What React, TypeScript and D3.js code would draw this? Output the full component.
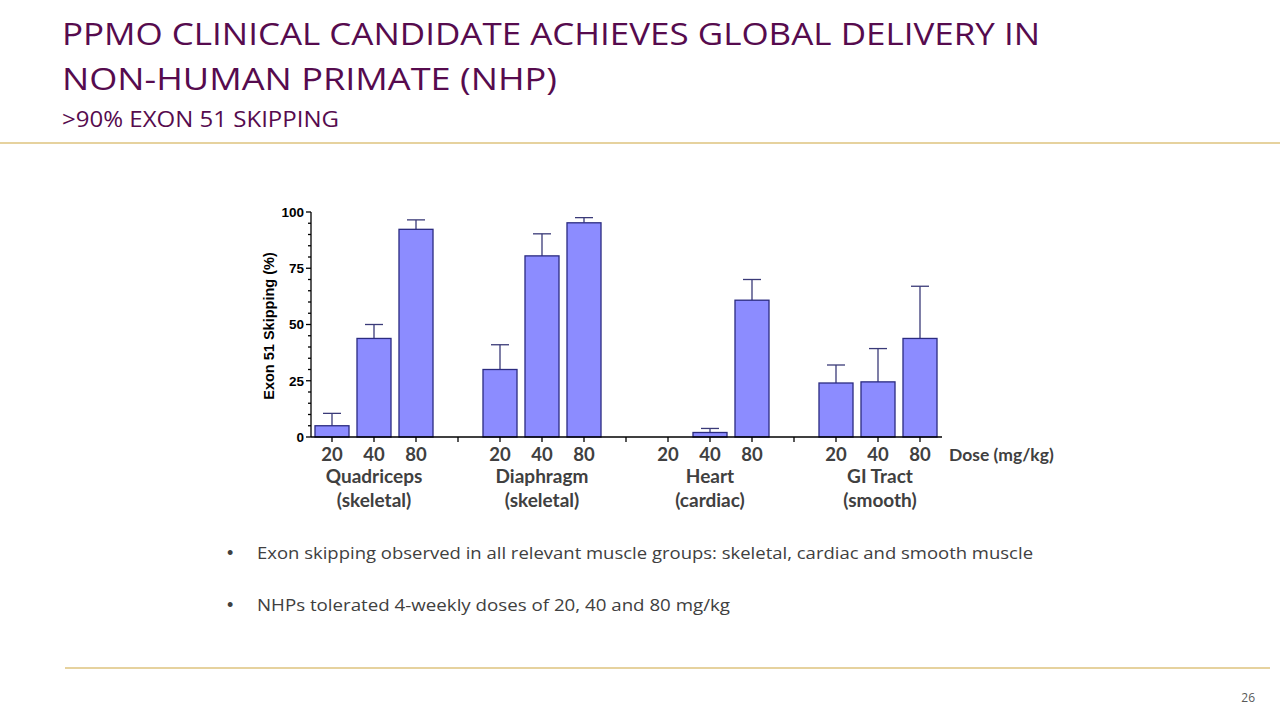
import React from "react";
import * as d3 from "d3";

const groups = ["Quadriceps", "Diaphragm", "Heart", "GI Tract"];
const groupSubs = ["(skeletal)", "(skeletal)", "(cardiac)", "(smooth)"];
const doses = ["20", "40", "80"];
const quadMeans = [5, 43.8, 92.3];
const quadUpper = [10.5, 50, 96.5];
const diaphMeans = [30, 80.5, 95.2];
const diaphUpper = [41, 90.3, 97.5];
const heartMeans = [0, 2, 60.8];
const heartUpper = [0, 3.8, 70];
const giMeans = [24, 24.5, 43.8];
const giUpper = [32, 39.3, 67];
const yTicks = [0, 25, 50, 75, 100];

const meansByGroup = [quadMeans, diaphMeans, heartMeans, giMeans];
const upperByGroup = [quadUpper, diaphUpper, heartUpper, giUpper];

const bullets = [
  "Exon skipping observed in all relevant muscle groups: skeletal, cardiac and smooth muscle",
  "NHPs tolerated 4-weekly doses of 20, 40 and 80 mg/kg",
];

const PURPLE = "#560b4e";
const GOLD = "#e6d29e";
const TEXT = "#404040";
const BAR_FILL = "#8c8cff";
const BAR_STROKE = "#2b2b80";

export default function App() {
  const slots: string[] = [];
  groups.forEach((g, gi) => {
    doses.forEach((d) => slots.push(`${g}-${d}`));
    if (gi < groups.length - 1) slots.push(`gap-${gi}`);
  });

  const x = d3
    .scaleBand<string>()
    .domain(slots)
    .range([311, 941])
    .paddingInner(0.19)
    .paddingOuter(0.095);
  const y = d3.scaleLinear().domain([0, 100]).range([437, 212]);

  const minorTicks = d3.range(0, 101, 5).filter((v) => v % 25 !== 0);
  const bw = x.bandwidth();
  const center = (k: string) => (x(k) as number) + bw / 2;

  const bars = groups.flatMap((g, gi) =>
    doses.map((d, di) => ({
      key: `${g}-${d}`,
      dose: d,
      mean: meansByGroup[gi][di],
      upper: upperByGroup[gi][di],
    }))
  );

  return (
    <div style={{ position: "absolute", left: 0, top: 0 }}>
      <svg width={1280} height={720} style={{ display: "block", background: "#fff" }}>
        {/* Title */}
        <g fill={PURPLE} fontFamily="'Open Sans', sans-serif">
          <text x={62} y={45} fontSize={31} textLength={978} lengthAdjust="spacingAndGlyphs">
            PPMO CLINICAL CANDIDATE ACHIEVES GLOBAL DELIVERY IN
          </text>
          <text x={62} y={90} fontSize={31} textLength={495} lengthAdjust="spacingAndGlyphs">
            NON-HUMAN PRIMATE (NHP)
          </text>
          <text x={62} y={127} fontSize={21} textLength={277} lengthAdjust="spacingAndGlyphs">
            {">90% EXON 51 SKIPPING"}
          </text>
        </g>
        <line x1={0} x2={1280} y1={143} y2={143} stroke={GOLD} strokeWidth={2} />
        <line x1={65} x2={1270} y1={668} y2={668} stroke={GOLD} strokeWidth={2} />
        <text x={1255} y={702} fontSize={12} fill="#595959" textAnchor="end" fontFamily="'Open Sans', sans-serif">
          26
        </text>

        {/* Bars */}
        {bars.map((b) =>
          b.mean > 0 ? (
            <g key={b.key}>
              <line
                x1={center(b.key)}
                x2={center(b.key)}
                y1={y(b.mean)}
                y2={y(b.upper)}
                stroke="#3a3a78"
                strokeWidth={1.3}
              />
              <line
                x1={center(b.key) - 9}
                x2={center(b.key) + 9}
                y1={y(b.upper)}
                y2={y(b.upper)}
                stroke="#3a3a78"
                strokeWidth={1.3}
              />
              <rect
                x={x(b.key)}
                y={y(b.mean)}
                width={bw}
                height={y(0) - y(b.mean)}
                fill={BAR_FILL}
                stroke={BAR_STROKE}
                strokeWidth={1.3}
              />
            </g>
          ) : null
        )}

        {/* Axes */}
        <g stroke="#000" strokeWidth={1.3}>
          <line x1={311} x2={311} y1={y(0)} y2={y(100)} />
          {yTicks.map((t) => (
            <line key={t} x1={306} x2={311} y1={y(t)} y2={y(t)} />
          ))}
          {minorTicks.map((t) => (
            <line key={t} x1={308} x2={311} y1={y(t)} y2={y(t)} />
          ))}
          <line x1={311} x2={942} y1={y(0)} y2={y(0)} />
          {slots.map((s) => (
            <line key={s} x1={center(s)} x2={center(s)} y1={y(0)} y2={y(0) + 5} />
          ))}
        </g>
        <g fontFamily="'Liberation Sans', Arial, sans-serif" fontWeight="bold" fontSize={13.5} fill="#000">
          {yTicks.map((t) => (
            <text key={t} x={304} y={y(t)} dy="0.36em" textAnchor="end">
              {t}
            </text>
          ))}
          <text transform={`translate(274,326) rotate(-90)`} textAnchor="middle" fontSize={14.5}>
            Exon 51 Skipping (%)
          </text>
        </g>

        {/* X labels */}
        <g fontFamily="Lato, 'Open Sans', sans-serif" fontWeight="bold" fill={TEXT} fontSize={19}>
          {bars.map((b) => (
            <text key={b.key} x={center(b.key)} y={461} textAnchor="middle" fontSize={18.5}>
              {b.dose}
            </text>
          ))}
          <text x={949} y={461} fontSize={17.5}>Dose (mg/kg)</text>
          {groups.map((g, gi) => {
            const cx = center(`${g}-${doses[1]}`) + (gi === 3 ? 2 : 0);
            const base = gi === 3 ? 482.5 : 483;
            return (
              <g key={g}>
                <text x={cx} y={base} textAnchor="middle">
                  {g}
                </text>
                <text x={cx} y={base + 24} textAnchor="middle">
                  {groupSubs[gi]}
                </text>
              </g>
            );
          })}
        </g>

        {/* Bullets */}
        <g fontFamily="'Open Sans', sans-serif" fontSize={17} fill={TEXT}>
          {bullets.map((t, i) => (
            <g key={i}>
              <text x={227} y={559 + i * 52} fontFamily="'Liberation Sans', Arial, sans-serif" fontSize={18}>
                •
              </text>
              <text
                x={257}
                y={559 + i * 52}
                textLength={i === 0 ? 776 : 473}
                lengthAdjust="spacingAndGlyphs"
              >
                {t}
              </text>
            </g>
          ))}
        </g>
      </svg>
    </div>
  );
}
